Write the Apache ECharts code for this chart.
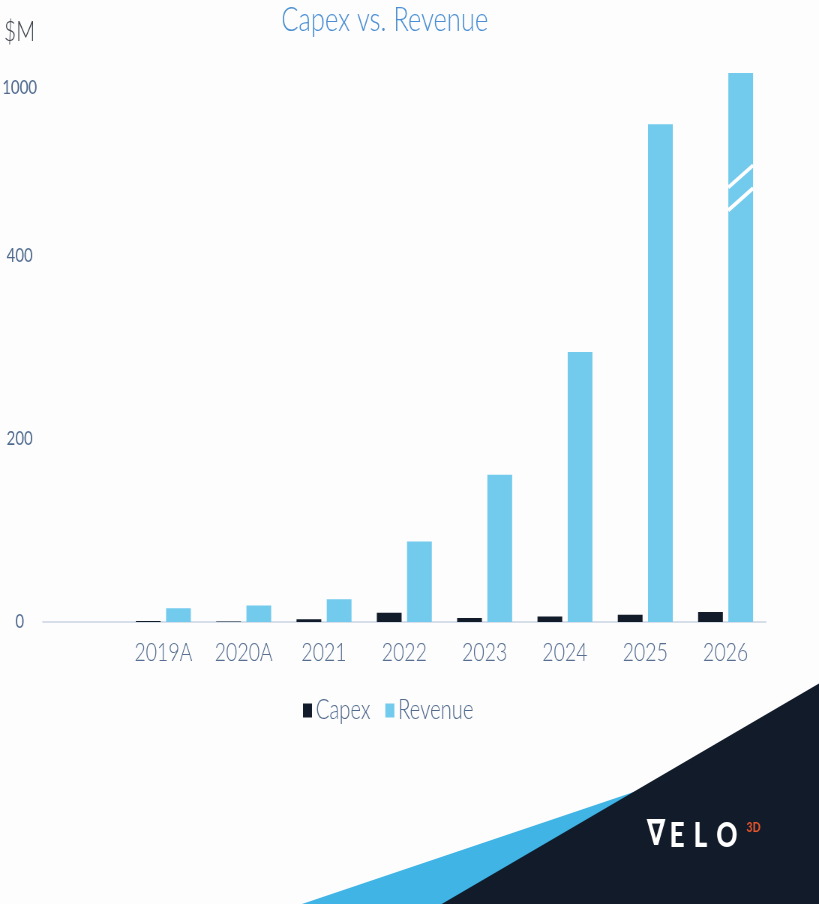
<!DOCTYPE html>
<html>
<head>
<meta charset="utf-8">
<script src="https://cdn.jsdelivr.net/npm/echarts@6/dist/echarts.min.js"></script>
<style>
  html, body { margin: 0; padding: 0; overflow: hidden; background: #fdfdfd; }
  /* the slide artwork is laid out wide and squeezed horizontally */
  #chart { width: 1092px; height: 904px; transform: scaleX(0.75); transform-origin: 0 0; }
</style>
</head>
<body>
<div id="chart"></div>
<script>
// Capex vs. revenue, $M
const categories = ['', '2019A', '2020A', '2021', '2022', '2023', '2024', '2025', '2026'];
const capex      = [null, 1, 0.5, 3, 10, 4.5, 6, 8, 11];
const revenue    = [null, 15, 18, 25, 88, 161, 295, 544, 1016];
const yTickValues = [0, 200, 400, 1000];

// bar geometry (chart units, before the horizontal squeeze)
const BAR_W = 33;
const BAR_GAP = 7.3;
// levels of the two "//" cut marks on the truncated last bar
const cutMarkLevels = [450, 475];
const cutMarkRise = 24;

const FONT = 'Lato, "Open Sans", sans-serif';

const chart = echarts.init(document.getElementById('chart'));

chart.setOption({
  backgroundColor: '#fdfdfd',
  animation: false,
  title: {
    text: 'Capex vs. Revenue',
    left: 513,
    top: 3,
    padding: 0,
    textAlign: 'center',
    textStyle: { color: '#4a8fd3', fontSize: 34, fontWeight: 300, fontFamily: FONT }
  },
  legend: {
    data: ['Capex', 'Revenue'],
    left: 404,
    top: 697,
    padding: 0,
    icon: 'rect',
    itemWidth: 12,
    itemHeight: 14,
    itemGap: 20,
    textStyle: { color: '#50698d', fontSize: 27, fontWeight: 300, fontFamily: FONT }
  },
  grid: { left: 55, right: 71, top: 73, bottom: 282 },
  xAxis: {
    type: 'category',
    data: categories,
    axisLine: { lineStyle: { color: '#d6dee9', width: 2 } },
    axisTick: { show: false },
    axisLabel: { color: '#566e91', fontSize: 26, fontWeight: 300, fontFamily: FONT, margin: 18 }
  },
  yAxis: {
    type: 'value',
    min: 0,
    max: 1016,
    breaks: [{ start: 560, end: 986, gap: 10 }],
    breakArea: { show: false },
    name: '$M',
    nameLocation: 'end',
    nameGap: 27,
    nameTextStyle: { color: '#3d434b', fontSize: 28, fontWeight: 300, fontFamily: FONT, align: 'center', padding: [0, 62, 0, 0] },
    axisLine: { show: false },
    axisTick: { show: false },
    splitLine: { show: false },
    axisLabel: {
      customValues: yTickValues,
      formatter: function (v) { return String(v); },
      color: '#4f6a8e', fontSize: 20, fontFamily: FONT,
      align: 'center', margin: 31
    }
  },
  series: [
    {
      name: 'Capex', type: 'bar', data: capex,
      barWidth: BAR_W, barGap: (BAR_GAP / BAR_W * 100).toFixed(1) + '%',
      itemStyle: { color: '#111b2a' }
    },
    {
      name: 'Revenue', type: 'bar', data: revenue,
      barWidth: BAR_W,
      itemStyle: { color: '#72caed' }
    },
    {
      // white "//" cut marks across the last revenue bar
      type: 'custom', silent: true, z: 5,
      data: cutMarkLevels.map(v => [categories.length - 1, v]),
      encode: { x: 0, y: 1 },
      renderItem: function (params, api) {
        const idx = api.value(0);
        const lvl = api.value(1);
        const cx = api.coord([idx, 0])[0];
        const x0 = cx + BAR_GAP / 2;
        const x1 = x0 + BAR_W;
        const p0 = api.coord([idx, lvl]);
        const p1 = api.coord([idx, lvl + cutMarkRise]);
        return {
          type: 'line',
          shape: { x1: x0, y1: p0[1], x2: x1, y2: p1[1] },
          style: { stroke: '#ffffff', lineWidth: 4 }
        };
      }
    }
  ],
  graphic: [
    { type: 'polygon', z: 1, silent: true,
      shape: { points: [[853, 790], [398.7, 905], [613, 905]] },
      style: { fill: '#3fb4e5' } },
    { type: 'polygon', z: 2, silent: true,
      shape: { points: [[1093, 683], [1093, 905], [586.7, 905]] },
      style: { fill: '#111b2a' } },
    { type: 'text', z: 3, x: 874.7, y: 836, silent: true,
      style: { text: '∇', fill: '#ffffff', font: 'bold 36px "DejaVu Sans"', align: 'center', verticalAlign: 'middle' } },
    { type: 'text', z: 3, x: 902.7, y: 836, silent: true,
      style: { text: 'E', fill: '#ffffff', font: '900 35px Lato', align: 'center', verticalAlign: 'middle' } },
    { type: 'text', z: 3, x: 934, y: 836, silent: true,
      style: { text: 'L', fill: '#ffffff', font: '900 35px Lato', align: 'center', verticalAlign: 'middle' } },
    { type: 'text', z: 3, x: 969.3, y: 836, silent: true,
      style: { text: 'O', fill: '#ffffff', font: '900 35px Lato', align: 'center', verticalAlign: 'middle' } },
    { type: 'text', z: 3, x: 1004.7, y: 827, silent: true,
      style: { text: '3D', fill: '#e4552c', font: '900 14px Lato', align: 'center', verticalAlign: 'middle' } }
  ]
});
</script>
</body>
</html>
